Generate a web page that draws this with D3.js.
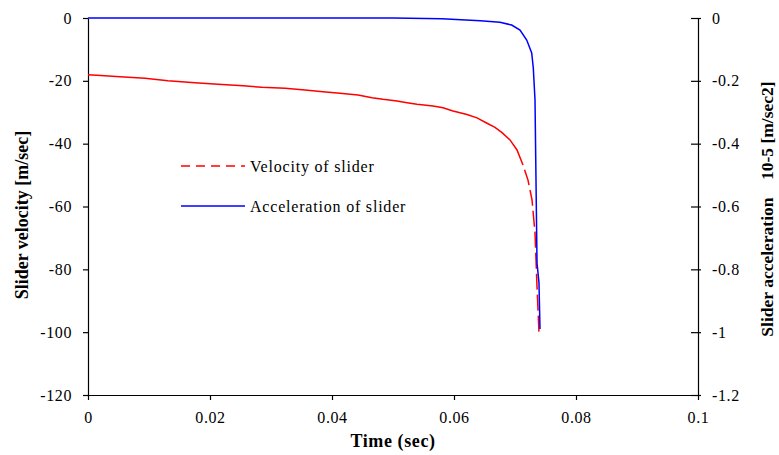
<!DOCTYPE html>
<html>
<head>
<meta charset="utf-8">
<script src="https://cdn.jsdelivr.net/npm/d3@7/dist/d3.min.js"></script>
<style>
  html, body { margin: 0; padding: 0; background: #fff; }
  svg { display: block; }
  text { font-family: "Liberation Serif", "Times New Roman", serif; fill: #000; }
</style>
</head>
<body>
<svg id="chart" width="779" height="455"></svg>
<script>
// Slider velocity (m/sec) against time (sec)
const velTime = [0, 0.00143, 0.00525, 0.00934, 0.01311, 0.01754, 0.02131, 0.02541, 0.02852, 0.0323,
  0.03557, 0.03852, 0.04131, 0.04426, 0.04656, 0.04836, 0.05066, 0.0523, 0.05393, 0.05656,
  0.0582, 0.05984, 0.06213, 0.06377, 0.06541, 0.06672, 0.06787, 0.06918, 0.07033, 0.07131,
  0.07213, 0.07279, 0.07328, 0.07361, 0.07393];
const velocity = [-18.05, -18.24, -18.68, -19.19, -19.96, -20.59, -21.1, -21.55, -22.06, -22.35,
  -22.92, -23.46, -23.97, -24.51, -25.37, -25.88, -26.42, -26.96, -27.47, -28.01,
  -28.55, -29.6, -30.7, -31.8, -33.5, -34.8, -36.5, -38.8, -42.0, -46.8,
  -51.6, -57.9, -68.4, -85.6, -100];

// Slider acceleration (x 10^-5 m/sec^2) against time (sec)
const accTime = [0, 0.02, 0.04, 0.05, 0.058, 0.0643, 0.06754, 0.06946, 0.07082, 0.07192,
  0.07274, 0.073, 0.07328, 0.0734, 0.07361, 0.07393, 0.0741];
const acceleration = [0, 0, 0, 0, -0.002, -0.0086, -0.0137, -0.0223, -0.0382, -0.07,
  -0.111, -0.159, -0.261, -0.45, -0.78, -0.843, -0.99];

const xTicks = [0, 0.02, 0.04, 0.06, 0.08, 0.1];
const xTickLabels = ["0", "0.02", "0.04", "0.06", "0.08", "0.1"];
const velTicks = [0, -20, -40, -60, -80, -100, -120];
const velTickLabels = ["0", "-20", "-40", "-60", "-80", "-100", "-120"];
const accTicks = [0, -0.2, -0.4, -0.6, -0.8, -1, -1.2];
const accTickLabels = ["0", "-0.2", "-0.4", "-0.6", "-0.8", "-1", "-1.2"];

const seriesNames = ["Velocity of slider", "Acceleration of slider"];
const seriesColors = ["#ff0000", "#0000ff"];

const svg = d3.select("#chart");
const plotLeft = 88, plotRight = 698, plotTop = 18, plotBottom = 395;

const x = d3.scaleLinear().domain([0, 0.1]).range([plotLeft, plotRight]);
const yVel = d3.scaleLinear().domain([-120, 0]).range([plotBottom, plotTop]);
const yAcc = d3.scaleLinear().domain([-1.2, 0]).range([plotBottom, plotTop]);

// Bottom axis
const xAxis = d3.axisBottom(x).tickValues(xTicks)
  .tickFormat((d, i) => xTickLabels[i]).tickSizeInner(5).tickSizeOuter(0).tickPadding(12);
const gx = svg.append("g").attr("transform", `translate(0,${plotBottom})`).call(xAxis);

// Left axis
const yAxisL = d3.axisLeft(yVel).tickValues(velTicks)
  .tickFormat((d, i) => velTickLabels[i]).tickSizeInner(5).tickSizeOuter(0).tickPadding(11);
const gl = svg.append("g").attr("transform", `translate(${plotLeft},0)`).call(yAxisL);

// Right axis, ticks crossing the line
const yAxisR = d3.axisRight(yAcc).tickValues(accTicks)
  .tickFormat((d, i) => accTickLabels[i]).tickSizeInner(3).tickSizeOuter(0).tickPadding(11);
const gr = svg.append("g").attr("transform", `translate(${plotRight},0)`).call(yAxisR);
gr.selectAll(".tick line").attr("x1", -7).attr("x2", 3);

[gx, gl, gr].forEach(g => {
  g.select(".domain").attr("stroke", "#000").attr("stroke-width", 1.2);
  g.selectAll(".tick line").attr("stroke", "#000").attr("stroke-width", 1.2);
  g.selectAll(".tick text").style("font-family", '"Liberation Serif", serif')
    .style("font-size", "16px").style("letter-spacing", "0.6px").attr("fill", "#000");
});

// Axis titles
svg.append("text").attr("x", 393).attr("y", 447)
  .attr("text-anchor", "middle").style("font-size", "18px").style("font-weight", "bold")
  .style("letter-spacing", "0.6px")
  .text("Time (sec)");
svg.append("text").attr("transform", "translate(28,215) rotate(-90)")
  .attr("text-anchor", "middle").style("font-size", "18px").style("font-weight", "bold")
  .text("Slider velocity [m/sec]");
svg.append("text").attr("transform", "translate(773,209) rotate(-90)")
  .attr("text-anchor", "middle").style("font-size", "17.5px").style("font-weight", "bold")
  .style("white-space", "pre")
  .text("Slider acceleration    10-5 [m/sec2]");

// Velocity curve: solid along the dense stretch, dashed through the final plunge
const velLine = d3.line().x(d => x(d[0])).y(d => yVel(d[1]));
const velPts = velTime.map((t, i) => [t, velocity[i]]);
const splitAt = velTime.findIndex(t => t >= 0.0713);
svg.append("path").datum(velPts.slice(0, splitAt + 1)).attr("d", velLine)
  .attr("fill", "none").attr("stroke", seriesColors[0]).attr("stroke-width", 1.5);
svg.append("path").datum(velPts.slice(splitAt)).attr("d", velLine)
  .attr("fill", "none").attr("stroke", seriesColors[0]).attr("stroke-width", 1.5)
  .attr("stroke-dasharray", "16,5").attr("stroke-dashoffset", -5);

// Acceleration curve
const accLine = d3.line().x((d, i) => x(accTime[i])).y(d => yAcc(d));
svg.append("path").datum(acceleration).attr("d", accLine)
  .attr("fill", "none").attr("stroke", seriesColors[1]).attr("stroke-width", 1.5);

// Legend
const legend = svg.append("g");
seriesNames.forEach((name, i) => {
  const ly = 166 + i * 40;
  legend.append("line").attr("x1", 181).attr("x2", 245).attr("y1", ly).attr("y2", ly)
    .attr("stroke", seriesColors[i]).attr("stroke-width", 1.5)
    .attr("stroke-dasharray", i === 0 ? "9,6" : null);
  legend.append("text").attr("x", 250).attr("y", ly + 6)
    .style("font-size", "16px").style("letter-spacing", "0.8px").text(name);
});
</script>
</body>
</html>
